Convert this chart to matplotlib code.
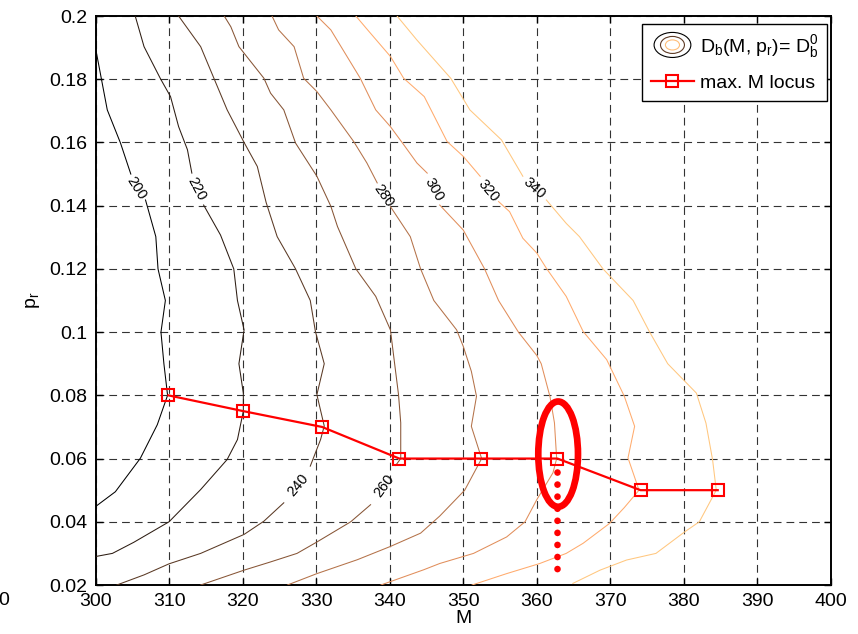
import matplotlib
matplotlib.use('Agg')
import numpy as np
import matplotlib.pyplot as plt
from matplotlib.patches import Ellipse
from matplotlib.legend_handler import HandlerBase
from matplotlib.lines import Line2D

plt.rcParams['font.family'] = ['Liberation Sans', 'DejaVu Sans']
plt.rcParams['mathtext.default'] = 'regular'

nan = np.nan
# ---------------- data ----------------
levels = [200, 220, 240, 260, 280, 300, 320, 340]

m200 = [300.1, 301.6, 303.4, 304.8, nan, 306.8, 308.2, 308.5, 309.5, 308.9, 309.3, 309.8, 308.4, 306.1, 302.7, 300.0]
p200 = [0.1887, 0.1703, 0.1598, 0.150, nan, 0.1418, 0.1302, 0.120, 0.110, 0.100, 0.090, 0.080, 0.0707, 0.0601, 0.0495, 0.0448]

m220 = [305.4, 306.6, 308.8, 310.2, 311.3, 312.5, 313.1, nan, 314.7, 317.0, 318.8, 319.3, 320.2, 319.5, 320.1, 320.1, 319.3, 317.9, 314.3, 310.0, 305.2, 302.3, 300.0]
p220 = [0.200, 0.1903, 0.1803, 0.1745, 0.165, 0.1577, 0.1503, nan, 0.1402, 0.1307, 0.120, 0.110, 0.1007, 0.090, 0.0807, 0.075, 0.066, 0.0597, 0.0502, 0.040, 0.0335, 0.030, 0.029]

m240 = [311.3, 314.3, 316.1, 317.9, 320.2, 322.0, 323.2, 324.7, 327.2, 329.2, 329.9, 331.1, 330.1, 331.1, 330.6, 329.2, nan, 325.6, 322.9, 320.2, 314.3, 310.0, 306.6, 302.9]
p240 = [0.200, 0.1903, 0.1803, 0.1703, 0.160, 0.1524, 0.141, 0.1302, 0.120, 0.110, 0.1002, 0.090, 0.0802, 0.0703, 0.066, 0.0576, nan, 0.046, 0.0402, 0.036, 0.030, 0.0267, 0.0232, 0.020]

m260 = [317.5, 318.4, 319.5, 322.9, 323.8, 325.6, 327.2, 330.1, 332.0, 332.9, 335.4, 338.1, 340.1, 340.6, 341.2, 341.5, 341.5, 340.8, nan, 337.4, 334.7, 330.1, 327.4, 323.8, 320.2, 314.3]
p260 = [0.200, 0.1966, 0.1903, 0.1803, 0.1756, 0.1703, 0.1598, 0.1493, 0.1398, 0.1334, 0.120, 0.1113, 0.1007, 0.0913, 0.0802, 0.0713, 0.060, 0.0578, nan, 0.0454, 0.040, 0.0336, 0.030, 0.0273, 0.0247, 0.020]

m280 = [324.0, 324.9, 327.0, 328.3, 330.1, 332.0, 335.1, 336.9, 338.3, nan, 340.1, 342.8, 344.2, 346.0, 349.1, 350.0, 351.1, 351.8, 351.1, 352.5, 350.2, 346.8, 344.2, 340.1, 335.6, 330.1, 326.1]
p280 = [0.200, 0.1956, 0.1903, 0.1803, 0.1761, 0.1703, 0.1603, 0.1535, 0.1472, nan, 0.1397, 0.1302, 0.120, 0.110, 0.1007, 0.0955, 0.0876, 0.0797, 0.0702, 0.060, 0.050, 0.0418, 0.0364, 0.0322, 0.028, 0.0236, 0.020]

m300 = [330.1, 332.0, 336.0, 338.1, 340.1, 341.9, 343.7, 345.1, nan, 346.8, 350.0, 352.9, 354.8, 357.5, 360.0, 360.6, 361.8, 362.4, 362.7, 362.2, 360.0, 358.4, 355.9, 351.4, 346.8, 344.6, 338.8]
p300 = [0.200, 0.1956, 0.1803, 0.1703, 0.165, 0.1593, 0.1535, 0.1503, nan, 0.1402, 0.1323, 0.120, 0.110, 0.100, 0.0926, 0.090, 0.0795, 0.0713, 0.060, 0.0555, 0.047, 0.040, 0.0352, 0.030, 0.0268, 0.0248, 0.020]

m320 = [335.4, 337.0, 340.1, 341.9, 344.7, 347.8, 350.0, 352.3, nan, 354.8, 356.3, 358.1, 360.0, 361.3, 364.0, 366.3, 369.5, 371.9, 373.3, 372.4, 373.9, 371.9, 369.9, 366.3, 364.0, 360.4, 355.9, 351.2]
p320 = [0.200, 0.1956, 0.1872, 0.1803, 0.1745, 0.1603, 0.1556, 0.1493, nan, 0.1413, 0.1381, 0.1297, 0.125, 0.1202, 0.1113, 0.1002, 0.0913, 0.0797, 0.0702, 0.0602, 0.050, 0.0445, 0.0395, 0.0332, 0.030, 0.0268, 0.0236, 0.020]

m340 = [341.0, 343.7, 348.3, 350.9, 355.2, 358.1, nan, 361.3, 364.0, 365.8, 369.0, 373.1, 375.3, 377.8, 381.7, 383.0, 383.9, 384.4, 382.1, 380.1, 376.2, 372.2, 368.6, 364.9]
p340 = [0.200, 0.1924, 0.1803, 0.1703, 0.1608, 0.1493, nan, 0.1418, 0.1344, 0.1302, 0.120, 0.110, 0.1002, 0.090, 0.0807, 0.0712, 0.0596, 0.050, 0.040, 0.0368, 0.030, 0.0279, 0.0247, 0.0205]

label_M = [305.5, 313.8, 327.5, 339.2, 339.1, 346.0, 353.4, 359.7]
label_p = [0.1455, 0.1452, 0.0515, 0.0513, 0.1432, 0.1450, 0.1448, 0.1456]
label_rot = [-57, -62, 50, 54, -55, -60, -50, -42]

locus_M = [309.9, 320.1, 330.8, 341.3, 352.4, 362.8, 374.1, 384.6]
locus_p = [0.080, 0.075, 0.070, 0.060, 0.060, 0.060, 0.050, 0.050]

ellipse_center = (362.9, 0.0614)
ellipse_size = (5.4, 0.0333)
dotted_M = [362.8, 362.8]
dotted_p = [0.0559, 0.0215]

x_ticks = [300, 310, 320, 330, 340, 350, 360, 370, 380, 390, 400]
y_ticks = [0.02, 0.04, 0.06, 0.08, 0.1, 0.12, 0.14, 0.16, 0.18, 0.2]

contour_M = [m200, m220, m240, m260, m280, m300, m320, m340]
contour_p = [p200, p220, p240, p260, p280, p300, p320, p340]

# ---------------- figure ----------------
fig = plt.figure(figsize=(8.58, 6.34), dpi=100)
ax = fig.add_axes([95.5/858, 1-585/634, (831-95.5)/858, (585-16)/634])

cmap = plt.get_cmap('copper')
def lev_color(lv):
    return cmap((lv - 200) / 140.0)

for lv, M, P in zip(levels, contour_M, contour_p):
    ax.plot(M, P, color=lev_color(lv), lw=0.75, zorder=3)

for lv, x, y, r in zip(levels, label_M, label_p, label_rot):
    ax.text(x, y, str(lv), rotation=r, rotation_mode='anchor', ha='center', va='center',
            fontsize=10.5, color='black', zorder=4)

ax.plot(locus_M, locus_p, color='red', lw=1.6, marker='s', ms=8, mfc='none', mec='red', mew=1.5, zorder=6)
ax.add_patch(Ellipse(ellipse_center, ellipse_size[0], ellipse_size[1], fill=False,
                     edgecolor='red', lw=4.8, zorder=7))
ax.plot(dotted_M, dotted_p, color='red', lw=4.8, linestyle=(0, (0.01, 1.8)),
        dash_capstyle='round', zorder=7)

ax.set_xlim(300, 400)
ax.set_ylim(0.02, 0.2)
ax.set_xticks(x_ticks)
ax.set_yticks(y_ticks)
ax.set_yticklabels(['%g' % v for v in y_ticks])
ax.tick_params(direction='in', length=5, width=1, top=True, right=True, labelsize=14, pad=6)
for s in ax.spines.values():
    s.set_linewidth(1.4)
ax.grid(True, color='0.2', lw=0.8, linestyle=(0, (7, 4.5)), zorder=1)
ax.set_axisbelow(True)

ax.set_xlabel('M', fontsize=14, labelpad=0)
ax.set_ylabel('p$_\\mathregular{r}$', fontsize=14, labelpad=5)

fig.text(0.0105, 1 - 592/634, '0', ha='right', va='top', fontsize=14)

# legend
class ContourKey:
    pass

class HandlerContour(HandlerBase):
    def create_artists(self, legend, orig_handle, xdescent, ydescent, width, height, fontsize, trans):
        cx = width / 2 - xdescent
        cy = height / 2 - ydescent
        arts = []
        for fw, fh, c in [(0.86, 1.84, 'black'), (0.56, 1.25, cmap(0.3)), (0.33, 0.74, cmap(0.95))]:
            e = Ellipse((cx, cy), width * fw, height * fh, fill=False, edgecolor=c, lw=0.8, transform=trans)
            arts.append(e)
        return arts

h2 = Line2D([], [], color='red', lw=1.6, marker='s', ms=8, mfc='none', mec='red', mew=1.5)
leg = ax.legend([ContourKey(), h2],
                ['D$_\\mathregular{b}$(M, p$_\\mathregular{r}$)= D$_\\mathregular{b}^\\mathregular{0}$', 'max. M locus'],
                handler_map={ContourKey: HandlerContour()},
                loc='upper right', bbox_to_anchor=(827/858, 1 - 24/634), bbox_transform=fig.transFigure,
                borderaxespad=0, fontsize=14, handlelength=2.2, handletextpad=0.3,
                labelspacing=0.75, borderpad=0.45, fancybox=False, framealpha=1,
                edgecolor='black')
leg.get_frame().set_linewidth(1.0)
leg.set_zorder(10)

fig.savefig('out.png', dpi=100)
